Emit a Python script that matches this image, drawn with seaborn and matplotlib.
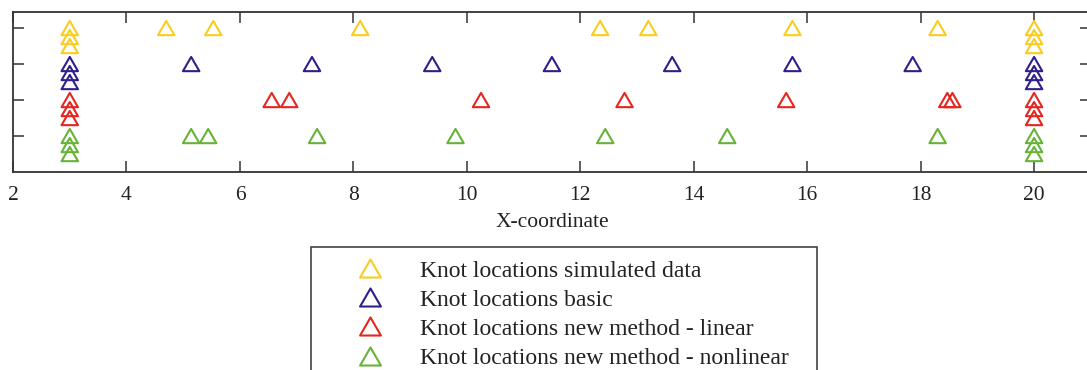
import pandas as pd
import seaborn as sns
import matplotlib.pyplot as plt
from matplotlib.path import Path
from matplotlib.lines import Line2D

sns.set_style("white")
plt.rcParams["font.family"] = ["Liberation Serif", "DejaVu Serif"]

labels = [
    "Knot locations simulated data",
    "Knot locations basic",
    "Knot locations new method - linear",
    "Knot locations new method - nonlinear",
]
colors = ["#F8CD1F", "#2E1F8C", "#E5261F", "#66B337"]

# boundary knots are repeated, drawn as small stacks at x=3 and x=20
sim_x = [3, 3, 3, 4.70, 5.53, 8.12, 12.35, 13.20, 15.74, 18.30, 20, 20, 20]
sim_y = [4, 3.75, 3.5, 4, 4, 4, 4, 4, 4, 4, 4, 3.75, 3.5]

basic_x = [3, 3, 3, 5.14, 7.27, 9.39, 11.50, 13.62, 15.74, 17.86, 20, 20, 20]
basic_y = [3, 2.75, 2.5, 3, 3, 3, 3, 3, 3, 3, 3, 2.75, 2.5]

lin_x = [3, 3, 3, 6.56, 6.87, 10.25, 12.78, 15.63, 18.47, 18.56, 20, 20, 20]
lin_y = [2, 1.75, 1.5, 2, 2, 2, 2, 2, 2, 2, 2, 1.75, 1.5]

nonlin_x = [3, 3, 3, 5.14, 5.44, 7.36, 9.80, 12.44, 14.59, 18.30, 20, 20, 20]
nonlin_y = [1, 0.75, 0.5, 1, 1, 1, 1, 1, 1, 1, 1, 0.75, 0.5]

frames = []
for name, xs, ys in zip(labels, [sim_x, basic_x, lin_x, nonlin_x],
                        [sim_y, basic_y, lin_y, nonlin_y]):
    frames.append(pd.DataFrame({"x": xs, "y": ys, "series": name}))
df = pd.concat(frames, ignore_index=True)

# equilateral open triangle
tri = Path([(-1, -0.866), (1, -0.866), (0, 0.866), (-1, -0.866)], closed=True)

fig = plt.figure(figsize=(10.87, 3.70), dpi=100)
ax = fig.add_axes([0.012, 0.535, 0.9915, 0.4324])

sns.scatterplot(data=df, x="x", y="y", hue="series", hue_order=labels,
                palette=colors, marker=tri, s=140, linewidth=1.5,
                legend=False, ax=ax)
for coll in ax.collections:
    coll.set_edgecolors(coll.get_facecolors().copy())
    coll.set_facecolors("none")

ax.set_xlim(2, 21)
ax.set_ylim(0, 4.444)
ax.set_xticks(range(2, 21, 2))
ax.set_yticks([1, 2, 3, 4])
ax.set_yticklabels([])
ax.tick_params(direction="in", length=8, width=1.1, color="#333333",
               bottom=True, left=True, top=True, right=True,
               labelsize=15.5, pad=10, labelcolor="#222222")
for sp in ax.spines.values():
    sp.set_visible(True)
    sp.set_color("#333333")
    sp.set_linewidth(1.3)

ax.set_xlabel("X-coordinate", fontsize=15.5, labelpad=6, color="#222222")
ax.set_ylabel("")

handles = [Line2D([], [], marker=tri, linestyle="none", markerfacecolor="none",
                  markeredgecolor=c, markersize=15, markeredgewidth=1.5)
           for c in colors]
leg = fig.legend(handles=handles, labels=labels, loc="upper left",
                 bbox_to_anchor=(0.2861, 0.0, 0.4655, 0.3324), mode="expand",
                 borderaxespad=0, fontsize=17, handlelength=3.9,
                 handletextpad=0.17, labelspacing=0.32, borderpad=0.55,
                 fancybox=False, framealpha=1, edgecolor="#444444")
leg.get_frame().set_linewidth(1.2)
for t in leg.get_texts():
    t.set_color("#222222")

fig.savefig("out.png", dpi=100)
